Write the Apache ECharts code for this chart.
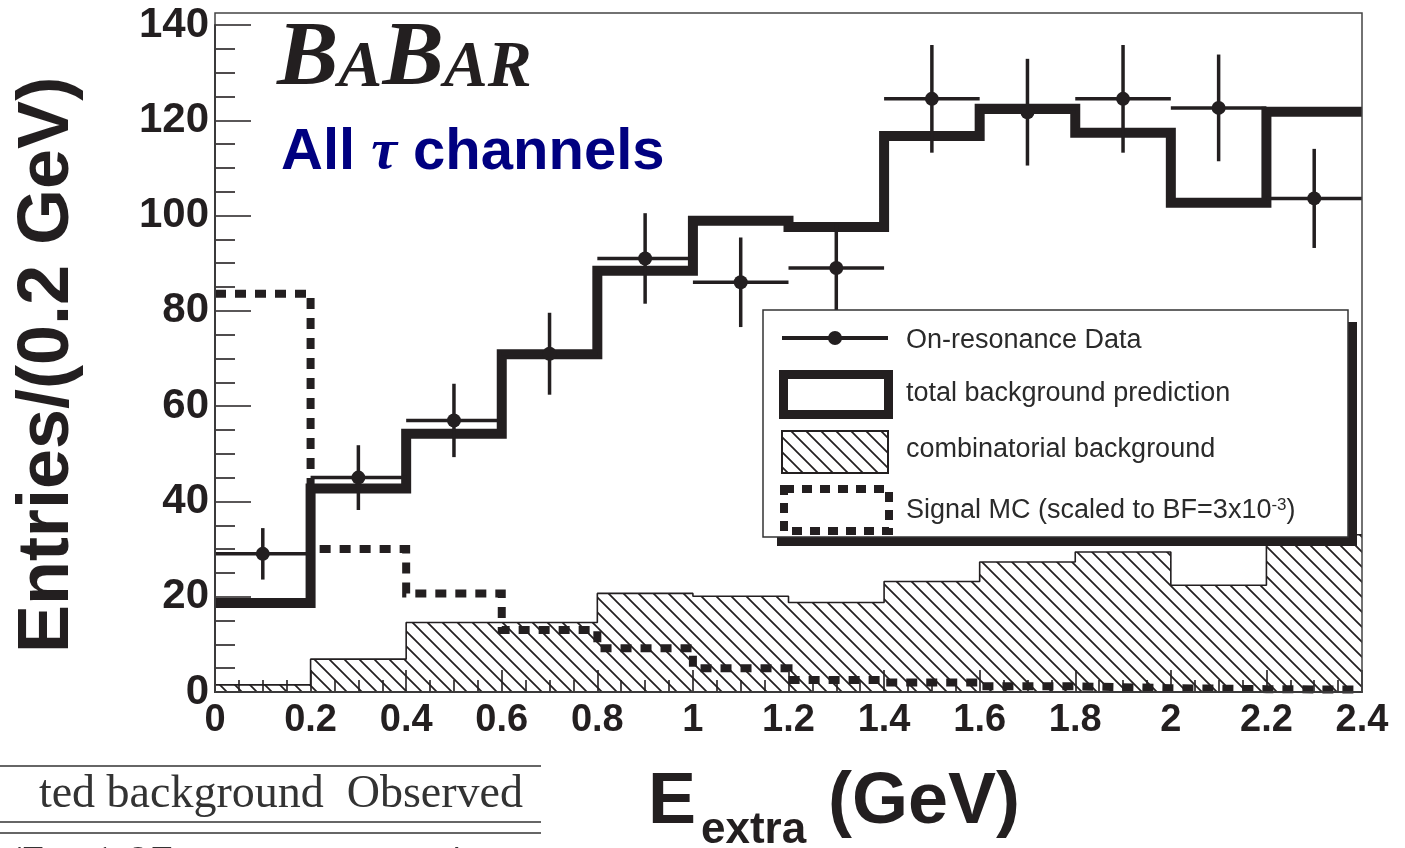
<!DOCTYPE html>
<html>
<head>
<meta charset="utf-8">
<script src="https://cdn.jsdelivr.net/npm/echarts@6/dist/echarts.min.js"></script>
<style>
html,body{margin:0;padding:0;background:#fff;}
#chart{width:1405px;height:848px;}
</style>
</head>
<body>
<div id="chart"></div>
<script>
// ---- data ----
const binEdges = [0, 0.2, 0.4, 0.6, 0.8, 1.0, 1.2, 1.4, 1.6, 1.8, 2.0, 2.2, 2.4];
const dataCounts = [29, 45, 57, 71, 91, 86, 89, 124.5, 121.7, 124.5, 122.6, 103.6];
const dataErrors = [5.4, 6.8, 7.7, 8.6, 9.5, 9.4, 9.4, 11.3, 11.2, 11.3, 11.2, 10.4];
const totalBkg = [18.7, 42.7, 54.2, 70.9, 88.4, 98.9, 97.6, 116.7, 122.4, 117.4, 102.7, 121.8];
const combBkg = [1.5, 6.9, 14.6, 14.6, 20.7, 20.1, 18.8, 23.2, 27.3, 29.4, 22.4, 33];
const signalMC = [83.6, 30, 20.7, 13, 9.2, 5, 2.5, 2, 1.2, 0.8, 0.6, 0.5];
const yTicks = [0, 20, 40, 60, 80, 100, 120, 140];
const xTicks = [0, 0.2, 0.4, 0.6, 0.8, 1, 1.2, 1.4, 1.6, 1.8, 2, 2.2, 2.4];

const INK = '#231f20';
const SANS = "'Liberation Sans', Arial, Helvetica, sans-serif";
const SERIF = "'Liberation Serif', 'Times New Roman', serif";

function stepData(vals) {
  const pts = vals.map((v, i) => [binEdges[i], v]);
  pts.push([binEdges[vals.length], vals[vals.length - 1]]);
  return pts;
}
function makeHatch(size, lw, color) {
  const c = document.createElement('canvas');
  c.width = size; c.height = size;
  const g = c.getContext('2d');
  g.strokeStyle = color; g.lineWidth = lw;
  g.beginPath();
  g.moveTo(-2, -2); g.lineTo(size + 2, size + 2);
  g.moveTo(size - 3, -3); g.lineTo(size + 3, 3);
  g.moveTo(-3, size - 3); g.lineTo(3, size + 3);
  g.stroke();
  return c;
}
const hatch = makeHatch(15, 1.7, INK);

const errData = dataCounts.map((v, i) => [
  (binEdges[i] + binEdges[i + 1]) / 2, v, dataErrors[i], (binEdges[i + 1] - binEdges[i]) / 2
]);

const chart = echarts.init(document.getElementById('chart'), null, {renderer: 'canvas'});

const tickStyle = {color: INK, width: 1.6};

const option = {
  animation: false,
  backgroundColor: '#fff',
  grid: {left: 215, right: 43, top: 25, bottom: 156, show: false},
  xAxis: {
    type: 'value', min: 0, max: 2.4, interval: 0.2,
    axisLine: {show: true, onZero: false, lineStyle: {color: INK, width: 2}},
    axisTick: {show: true, inside: true, length: 22, lineStyle: tickStyle},
    minorTick: {show: true, splitNumber: 4, length: 12, lineStyle: tickStyle},
    splitLine: {show: false},
    axisLabel: {
      fontSize: 38, fontWeight: 'bold', fontFamily: SANS, color: INK, margin: 10,
      formatter: v => {
        const t = xTicks.find(x => Math.abs(x - v) < 1e-6);
        return t === undefined ? '' : String(t);
      }
    }
  },
  yAxis: {
    type: 'value', min: 0, max: 140, interval: 20,
    axisLine: {show: true, lineStyle: {color: INK, width: 2}},
    axisTick: {show: true, inside: true, length: 36, lineStyle: tickStyle},
    minorTick: {show: true, splitNumber: 4, length: 20, lineStyle: tickStyle},
    splitLine: {show: false},
    axisLabel: {
      fontSize: 42, fontWeight: 'bold', fontFamily: SANS, color: INK, margin: 6,
      formatter: v => (yTicks.indexOf(v) >= 0 ? String(v) : '')
    }
  },
  series: [
    {
      name: 'combinatorial background', type: 'line', step: 'end',
      data: stepData(combBkg), symbol: 'none', z: 1,
      lineStyle: {color: INK, width: 1.6},
      areaStyle: {color: {image: hatch, repeat: 'repeat'}, opacity: 1}
    },
    {
      name: 'Signal MC', type: 'line', step: 'end',
      data: stepData(signalMC), symbol: 'none', z: 2,
      lineStyle: {color: INK, width: 8, type: [11, 9], cap: 'butt', join: 'miter'}
    },
    {
      name: 'total background prediction', type: 'line', step: 'end',
      data: stepData(totalBkg), symbol: 'none', z: 3,
      lineStyle: {color: INK, width: 10, join: 'miter', cap: 'butt'}
    },
    {
      name: 'On-resonance Data', type: 'custom', z: 4,
      data: errData,
      renderItem: function (params, api) {
        const x = api.value(0), y = api.value(1), e = api.value(2), hw = api.value(3);
        const c = api.coord([x, y]);
        const l = api.coord([x - hw, y]);
        const r = api.coord([x + hw, y]);
        const t = api.coord([x, y + e]);
        const b = api.coord([x, y - e]);
        const st = {stroke: INK, lineWidth: 3.5, fill: null};
        return {
          type: 'group',
          children: [
            {type: 'line', shape: {x1: l[0], y1: l[1], x2: r[0], y2: r[1]}, style: st},
            {type: 'line', shape: {x1: t[0], y1: t[1], x2: b[0], y2: b[1]}, style: st},
            {type: 'circle', shape: {cx: c[0], cy: c[1], r: 7}, style: {fill: INK}}
          ]
        };
      }
    }
  ],
  graphic: {
    elements: [
      // frame
      {type: 'rect', z: 50, silent: true,
        shape: {x: 215, y: 13, width: 1147, height: 679},
        style: {fill: null, stroke: '#444', lineWidth: 1.5}},
      // BaBar logo
      {type: 'text', z: 60, x: 277, y: 106,
        style: {
          text: '{b|B}{s|A}{b|B}{s|A}{s|R}',
          verticalAlign: 'bottom', textVerticalAlign: 'bottom',
          rich: {
            b: {fontSize: 92, lineHeight: 92, fontFamily: SERIF, fontWeight: 'bold', fontStyle: 'italic', fill: INK, verticalAlign: 'bottom'},
            s: {fontSize: 66, lineHeight: 66, fontFamily: SERIF, fontWeight: 'bold', fontStyle: 'italic', fill: INK, verticalAlign: 'bottom', padding: [0, 0, 4, 0]}
          }
        }},
      // All tau channels
      {type: 'text', z: 60, x: 281, y: 153,
        style: {
          text: '{a|All }{t|τ}{a| channels}',
          verticalAlign: 'middle', textVerticalAlign: 'middle',
          rich: {
            a: {fontSize: 58, lineHeight: 58, fontFamily: SANS, fontWeight: 'bold', fill: '#000080'},
            t: {fontSize: 58, lineHeight: 58, fontFamily: SERIF, fontWeight: 'bold', fontStyle: 'italic', fill: '#000080'}
          }
        }},
      // y axis title
      {type: 'text', z: 60, x: 48, y: 365, rotation: Math.PI / 2,
        style: {text: 'Entries/(0.2 GeV)', fontSize: 72, fontWeight: 'bold', fontFamily: SANS, fill: INK,
          align: 'center', textAlign: 'center', verticalAlign: 'middle', textVerticalAlign: 'middle'}},
      // x axis title
      {type: 'text', z: 60, x: 648, y: 803,
        style: {text: 'E', fontSize: 72, fontWeight: 'bold', fontFamily: SANS, fill: INK,
          align: 'left', textAlign: 'left', verticalAlign: 'middle', textVerticalAlign: 'middle'}},
      {type: 'text', z: 60, x: 701, y: 831,
        style: {text: 'extra', fontSize: 44, fontWeight: 'bold', fontFamily: SANS, fill: INK,
          align: 'left', textAlign: 'left', verticalAlign: 'middle', textVerticalAlign: 'middle'}},
      {type: 'text', z: 60, x: 1020, y: 803,
        style: {text: '(GeV)', fontSize: 72, fontWeight: 'bold', fontFamily: SANS, fill: INK,
          align: 'right', textAlign: 'right', verticalAlign: 'middle', textVerticalAlign: 'middle'}},
      // legend shadow
      {type: 'rect', z: 100, shape: {x: 1348, y: 322, width: 9, height: 224}, style: {fill: INK}},
      {type: 'rect', z: 100, shape: {x: 777, y: 537, width: 580, height: 9}, style: {fill: INK}},
      // legend box
      {type: 'rect', z: 101, shape: {x: 763, y: 310, width: 585, height: 227},
        style: {fill: '#fff', stroke: '#333', lineWidth: 1.5}},
      // entry 1: data
      {type: 'line', z: 102, shape: {x1: 782, y1: 338, x2: 888, y2: 338}, style: {stroke: INK, lineWidth: 4}},
      {type: 'circle', z: 102, shape: {cx: 835, cy: 338, r: 7}, style: {fill: INK}},
      {type: 'text', z: 102, x: 906, y: 341,
        style: {text: 'On-resonance Data', fontSize: 27, fontFamily: SANS, fill: '#2a2a2a',
          verticalAlign: 'middle', textVerticalAlign: 'middle'}},
      // entry 2: total background
      {type: 'rect', z: 102, shape: {x: 783.5, y: 374.5, width: 105, height: 40},
        style: {fill: '#fff', stroke: INK, lineWidth: 9}},
      {type: 'text', z: 102, x: 906, y: 394,
        style: {text: 'total background prediction', fontSize: 27, fontFamily: SANS, fill: '#2a2a2a',
          verticalAlign: 'middle', textVerticalAlign: 'middle'}},
      // entry 3: combinatorial
      {type: 'rect', z: 102, shape: {x: 782, y: 431, width: 106, height: 42},
        style: {fill: {image: hatch, repeat: 'repeat'}, stroke: INK, lineWidth: 2}},
      {type: 'text', z: 102, x: 906, y: 450,
        style: {text: 'combinatorial background', fontSize: 27, fontFamily: SANS, fill: '#2a2a2a',
          verticalAlign: 'middle', textVerticalAlign: 'middle'}},
      // entry 4: signal MC
      {type: 'rect', z: 102, shape: {x: 784, y: 489, width: 105, height: 42},
        style: {fill: '#fff', stroke: INK, lineWidth: 8, lineDash: [10, 8]}},
      {type: 'text', z: 102, x: 906, y: 511,
        style: {text: 'Signal MC (scaled to BF=3x10{sup|-3})', fontSize: 27, fontFamily: SANS, fill: '#2a2a2a',
          verticalAlign: 'middle', textVerticalAlign: 'middle',
          rich: {sup: {fontSize: 17, fontFamily: SANS, fill: '#2a2a2a', verticalAlign: 'top', padding: [0, 0, 12, 0]}}}},
      // cropped table at bottom left
      {type: 'line', z: 60, shape: {x1: 0, y1: 766, x2: 541, y2: 766}, style: {stroke: '#333', lineWidth: 1.5}},
      {type: 'text', z: 60, x: 523, y: 795,
        style: {text: 'ted background  Observed', fontSize: 46, fontFamily: SERIF, fill: '#333',
          align: 'right', textAlign: 'right', verticalAlign: 'middle', textVerticalAlign: 'middle'}},
      {type: 'line', z: 60, shape: {x1: 0, y1: 822, x2: 541, y2: 822}, style: {stroke: '#333', lineWidth: 1.5}},
      {type: 'line', z: 60, shape: {x1: 0, y1: 833, x2: 541, y2: 833}, style: {stroke: '#333', lineWidth: 1.5}},
      {type: 'text', z: 60, x: 8, y: 866,
        style: {text: '/7 ± 1.87', fontSize: 46, fontFamily: SERIF, fill: '#333',
          verticalAlign: 'middle', textVerticalAlign: 'middle'}},
      {type: 'text', z: 60, x: 440, y: 866,
        style: {text: '4', fontSize: 46, fontFamily: SERIF, fill: '#333',
          verticalAlign: 'middle', textVerticalAlign: 'middle'}}
    ]
  }
};
chart.setOption(option);
</script>
</body>
</html>
